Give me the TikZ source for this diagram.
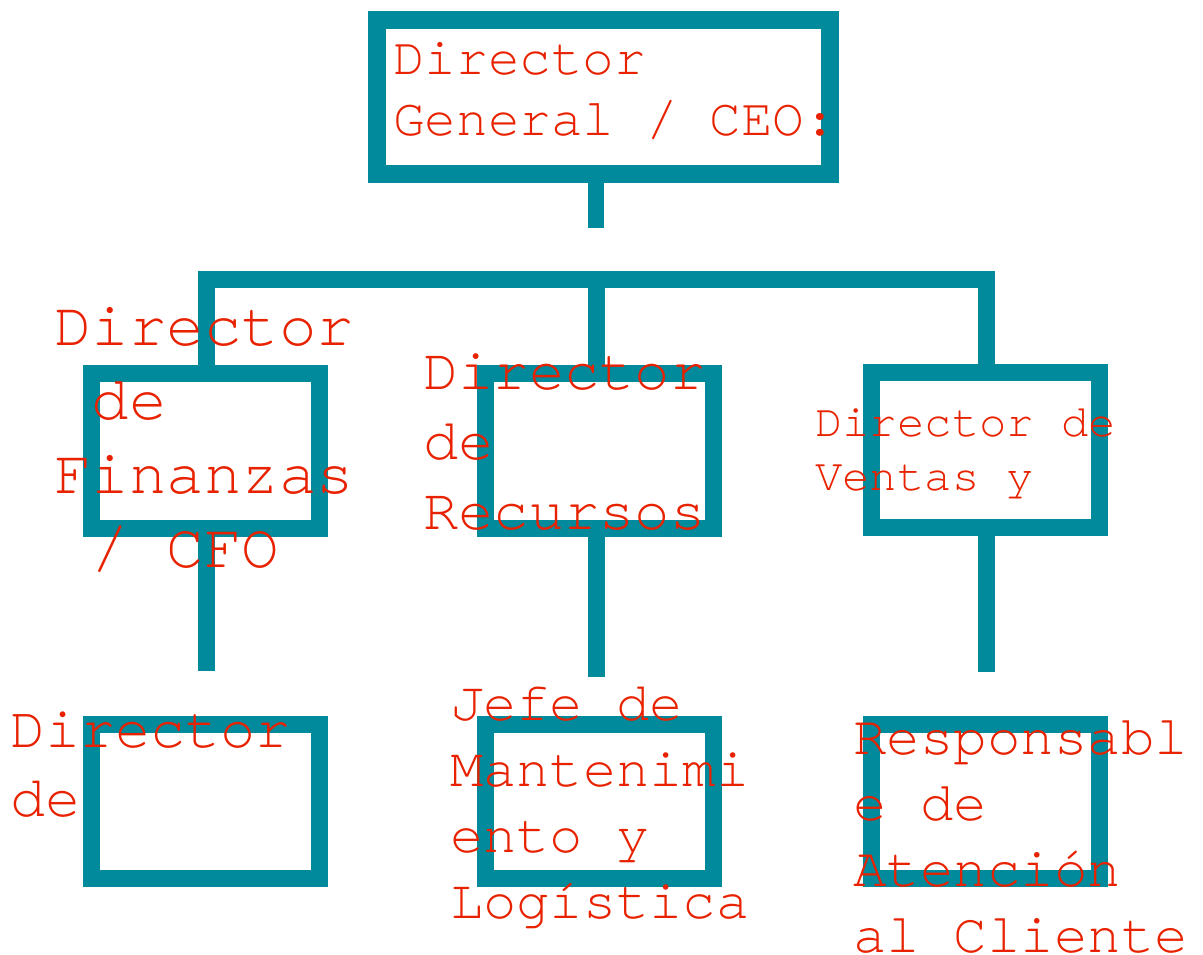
\documentclass[tikz,border=0pt]{standalone}
\usepackage{fontspec}
\usepackage{xcolor}
\newfontfamily\orgmono{texgyrecursor}[Extension=.otf, UprightFont=*-regular]
\definecolor{orgteal}{RGB}{0,138,155}
\definecolor{orgred}{RGB}{232,34,0}

\begin{document}
\begin{tikzpicture}[x=1pt,y=-1pt,
    orgbox/.style={draw=orgteal, line width=17pt, inner sep=0pt, minimum width=228pt, minimum height=155pt},
    link/.style={draw=orgteal, line width=17pt, line join=miter},
    label/.style={anchor=base west, inner sep=0pt, align=left, text=orgred}]

\useasboundingbox (0,0) rectangle (1203,955);

% Boxes
\node[orgbox, line width=18pt, minimum width=453pt, minimum height=154pt] (ceo) at (603.5,97) {};
\node[orgbox] (fin) at (205.5,451) {};
\node[orgbox] (rrhh) at (599.5,450.5) {};
\node[orgbox] (ventas) at (985.5,450) {};
\node[orgbox, minimum height=154pt] (direc) at (205.5,801.5) {};
\node[orgbox, minimum height=154pt] (mant) at (599.5,801.5) {};
\node[orgbox, minimum height=154pt] (atn) at (985.5,801.5) {};

% Connectors (the stems stop short of the next box)
\coordinate (ceoEnd) at (596,228);
\coordinate (bar) at (596,279);
\coordinate (finEnd) at (206,671);
\coordinate (rrhhEnd) at (596,677);
\coordinate (ventasEnd) at (986,672);
\draw[link, line width=16pt] (ceoEnd |- ceo.south) -- (ceoEnd);
\draw[link] (fin.north -| finEnd) |- (bar) -| (ventas.north -| ventasEnd);
\draw[link] (bar) -- (bar |- rrhh.north);
\draw[link] (finEnd |- fin.south) -- (finEnd);
\draw[link] (rrhhEnd |- rrhh.south) -- (rrhhEnd);
\draw[link] (ventasEnd |- ventas.south) -- (ventasEnd);

% Labels (placed at the baseline of their last line)
\node[label, font=\orgmono\fontsize{52.7}{62}\selectfont] (ceoText) at (393,136) {Director\\General / CEO:};
\node[label, font=\orgmono\fontsize{62.5}{74}\selectfont] (finText) at (54,567) {Director\\\hphantom{x}de\\Finanzas\\\hphantom{x}/ CFO};
\node[label, font=\orgmono\fontsize{58.8}{70}\selectfont] (rrhhText) at (423,529) {Director\\de\\Recursos};
\node[label, font=\orgmono\fontsize{45.6}{54}\selectfont] (ventasText) at (815,490) {Director de\\Ventas y};
\node[label, font=\orgmono\fontsize{58.5}{69}\selectfont] (direcText) at (10,816) {Director\\de};
\node[label, font=\orgmono\fontsize{55.4}{66}\selectfont] (mantText) at (450,918) {Jefe de\\Mantenimi\\ento y\\Log\'istica};
\node[label, font=\orgmono\fontsize{55.8}{66}\selectfont] (atnText) at (853,952) {Responsabl\\e de\\Atenci\'on\\al Cliente};

\end{tikzpicture}
\end{document}
